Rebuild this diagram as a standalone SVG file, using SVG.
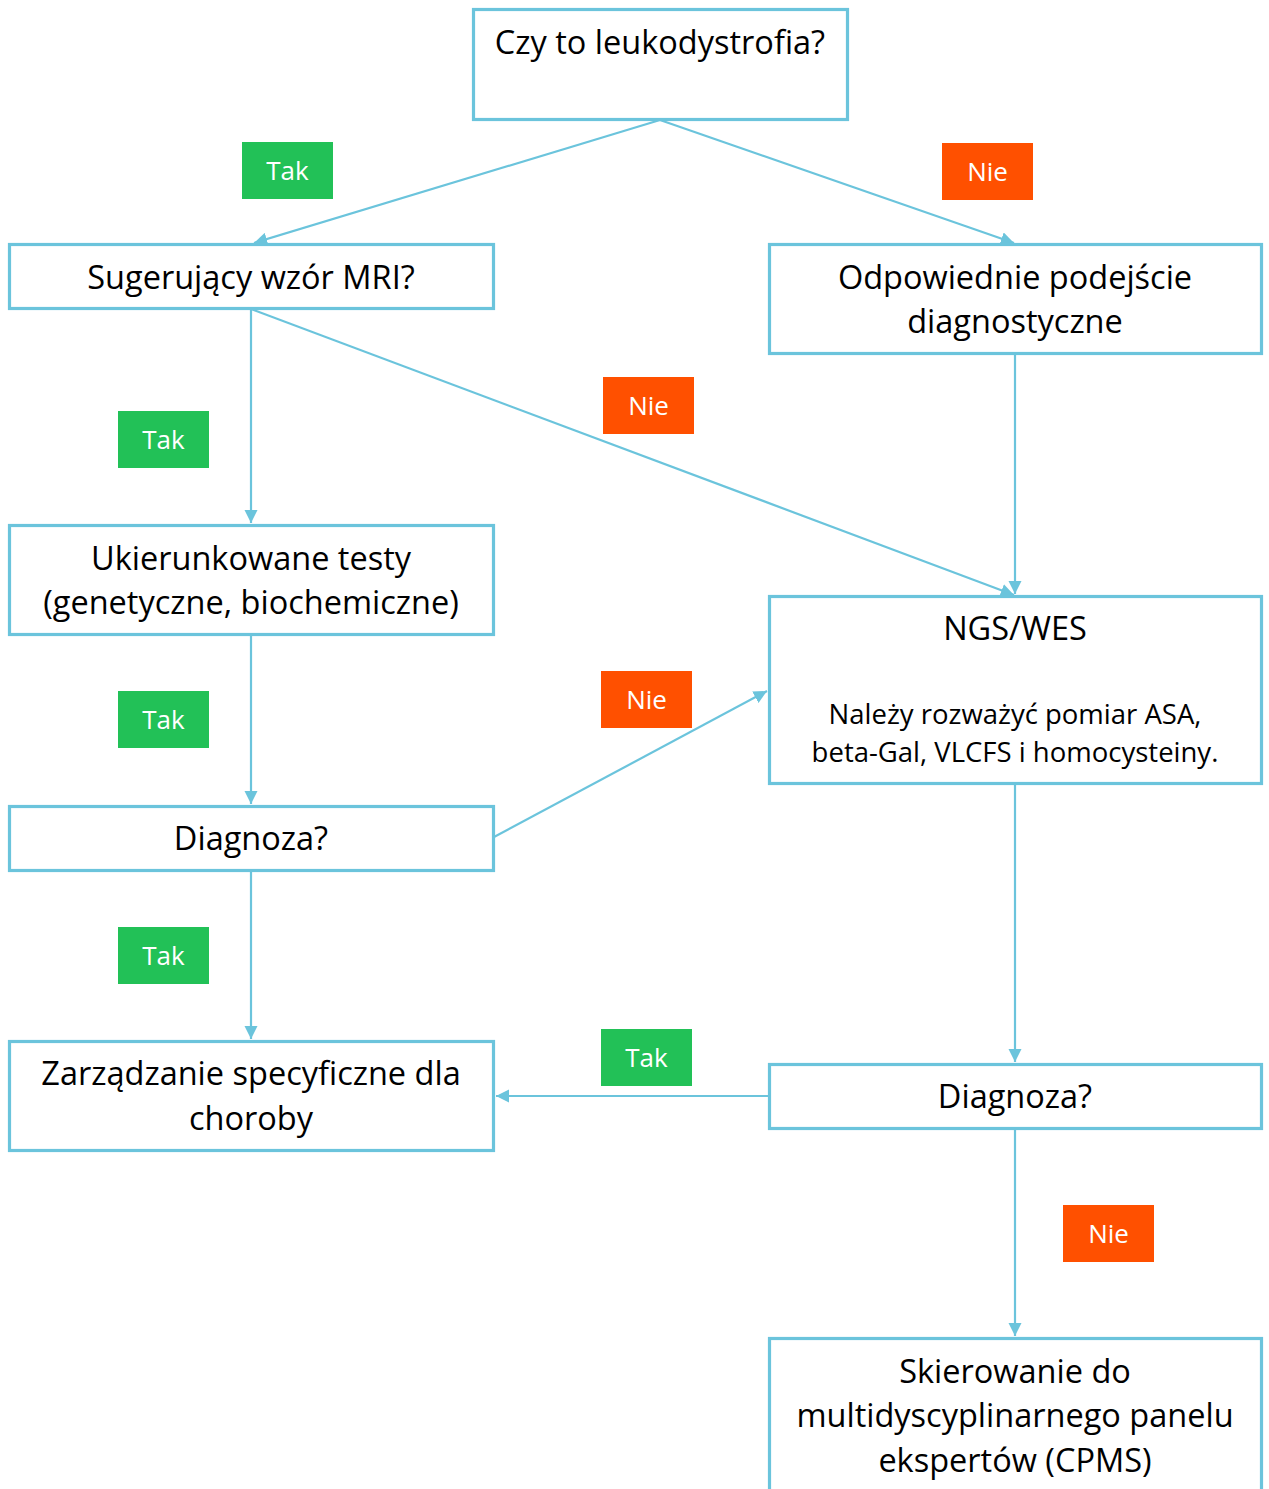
<svg xmlns="http://www.w3.org/2000/svg" width="1269" height="1489" viewBox="0 0 1269 1489">
<style>
.box{fill:#fff;stroke:#6BC4DC;stroke-width:3.2}
.t{font-family:"Open Sans","Liberation Sans",sans-serif;font-size:32.5px;fill:#000;text-anchor:middle}
.s{font-family:"Open Sans","Liberation Sans",sans-serif;font-size:27.5px;fill:#000;text-anchor:middle}
.lbl{font-family:"Open Sans","Liberation Sans",sans-serif;font-size:26px;fill:#fff;text-anchor:middle}
.tak{fill:#22C157}
.nie{fill:#FF5000}
.c{stroke:#6BC4DC;stroke-width:2.2;fill:none;marker-end:url(#a)}
</style>
<defs>
<marker id="a" viewBox="0 0 10 10" refX="10" refY="5" markerWidth="6" markerHeight="6" orient="auto" markerUnits="strokeWidth">
<path d="M0,0 L10,5 L0,10 z" fill="#6BC4DC"/>
</marker>
</defs>
<rect width="1269" height="1489" fill="#fff"/>
<g id="connectors">
<line class="c" x1="660" y1="120" x2="254" y2="243"/>
<line class="c" x1="660" y1="120" x2="1014" y2="243"/>
<line class="c" x1="251" y1="309" x2="251" y2="523"/>
<line class="c" x1="251" y1="309" x2="1014" y2="595"/>
<line class="c" x1="1015" y1="354" x2="1015" y2="594"/>
<line class="c" x1="251" y1="635" x2="251" y2="804"/>
<line class="c" x1="494" y1="837" x2="767" y2="691"/>
<line class="c" x1="251" y1="870" x2="251" y2="1039"/>
<line class="c" x1="1015" y1="784" x2="1015" y2="1062"/>
<line class="c" x1="768" y1="1096" x2="496" y2="1096"/>
<line class="c" x1="1015" y1="1128" x2="1015" y2="1336"/>
</g>
<g id="n1"><rect class="box" x="473.5" y="9.5" width="374" height="110"/><text class="t" x="660" y="54">Czy to leukodystrofia?</text></g>
<g id="n2"><rect class="box" x="9.5" y="244.5" width="484" height="64"/><text class="t" x="251" y="289">Sugerujący wzór MRI?</text></g>
<g id="n3"><rect class="box" x="769.5" y="244.5" width="492" height="109"/><text class="t" x="1015" y="289">Odpowiednie podejście</text><text class="t" x="1015" y="333">diagnostyczne</text></g>
<g id="n4"><rect class="box" x="9.5" y="525.5" width="484" height="109"/><text class="t" x="251" y="570">Ukierunkowane testy</text><text class="t" x="251" y="614">(genetyczne, biochemiczne)</text></g>
<g id="n5"><rect class="box" x="769.5" y="596.5" width="492" height="187"/><text class="t" x="1015" y="640">NGS/WES</text><text class="s" x="1015" y="724">Należy rozważyć pomiar ASA,</text><text class="s" x="1015" y="762">beta-Gal, VLCFS i homocysteiny.</text></g>
<g id="n6"><rect class="box" x="9.5" y="806.5" width="484" height="64"/><text class="t" x="251" y="850">Diagnoza?</text></g>
<g id="n7"><rect class="box" x="9.5" y="1041.5" width="484" height="109"/><text class="t" x="251" y="1085">Zarządzanie specyficzne dla</text><text class="t" x="251" y="1130">choroby</text></g>
<g id="n8"><rect class="box" x="769.5" y="1064.5" width="492" height="64"/><text class="t" x="1015" y="1108">Diagnoza?</text></g>
<g id="n9"><rect class="box" x="769.5" y="1338.5" width="492" height="160"/><text class="t" x="1015" y="1383">Skierowanie do</text><text class="t" x="1015" y="1427">multidyscyplinarnego panelu</text><text class="t" x="1015" y="1472">ekspertów (CPMS)</text></g>
<g id="labels">
<g><rect class="tak" x="242" y="142" width="91" height="57"/><text class="lbl" x="287.5" y="180">Tak</text></g>
<g><rect class="nie" x="942" y="143" width="91" height="57"/><text class="lbl" x="987.5" y="181">Nie</text></g>
<g><rect class="tak" x="118" y="411" width="91" height="57"/><text class="lbl" x="163.5" y="449">Tak</text></g>
<g><rect class="nie" x="603" y="377" width="91" height="57"/><text class="lbl" x="648.5" y="415">Nie</text></g>
<g><rect class="tak" x="118" y="691" width="91" height="57"/><text class="lbl" x="163.5" y="729">Tak</text></g>
<g><rect class="nie" x="601" y="671" width="91" height="57"/><text class="lbl" x="646.5" y="709">Nie</text></g>
<g><rect class="tak" x="118" y="927" width="91" height="57"/><text class="lbl" x="163.5" y="965">Tak</text></g>
<g><rect class="tak" x="601" y="1029" width="91" height="57"/><text class="lbl" x="646.5" y="1067">Tak</text></g>
<g><rect class="nie" x="1063" y="1205" width="91" height="57"/><text class="lbl" x="1108.5" y="1243">Nie</text></g>
</g>
</svg>
